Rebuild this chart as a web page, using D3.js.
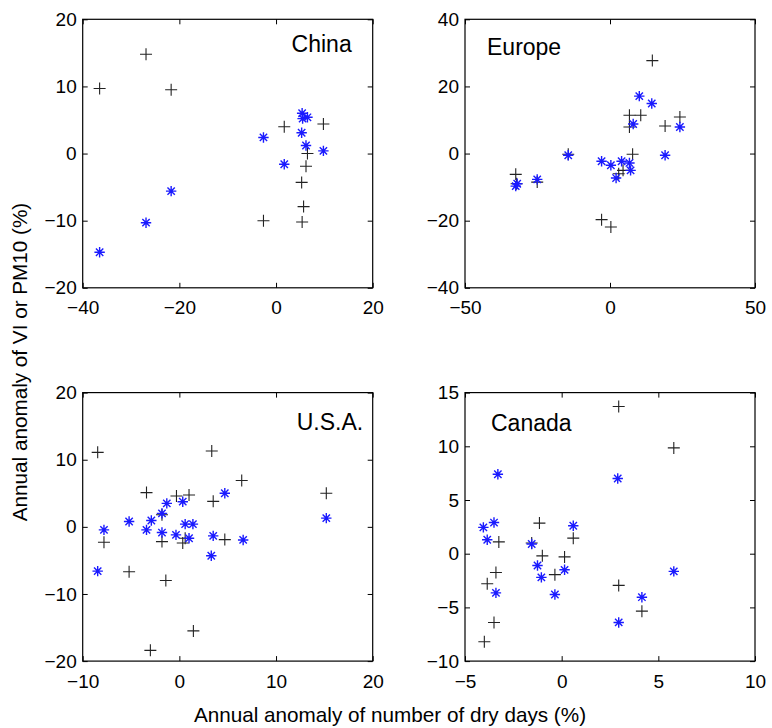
<!DOCTYPE html>
<html>
<head>
<meta charset="utf-8">
<script src="https://cdn.jsdelivr.net/npm/d3@7"></script>
<style>
  html, body { margin: 0; padding: 0; background: #fff; }
  svg { display: block; font-family: "Liberation Sans", Arial, Helvetica, sans-serif; }
</style>
</head>
<body>
<svg id="chart" width="772" height="728"></svg>
<script>
// ---------------- DATA ----------------
// Black "+" series and blue "*" series: [anomaly of dry days (%), anomaly of VI or PM10 (%)]
const chinaPlus = [[-36.5, 9.7], [-26.9, 14.8], [-21.7, 9.5], [1.7, 4.0], [9.8, 4.4], [6.5, 0.0],
  [6.2, -1.9], [5.3, -4.3], [5.7, -7.9], [-2.6, -10.0], [5.4, -10.2]];
const chinaStar = [[-36.5, -14.7], [-26.9, -10.3], [-21.7, -5.6], [-2.6, 2.4], [1.7, -1.6], [5.4, 6.0],
  [5.5, 5.2], [6.5, 5.4], [5.3, 3.1], [6.2, 1.2], [9.8, 0.4]];

const europePlus = [[-32.5, -6.2], [-32.2, -9.0], [-25.1, -8.5], [-14.4, -0.2], [-2.9, -19.7], [0.3, -21.9],
  [3.0, -6.0], [4.5, -5.0], [6.7, 11.4], [10.6, 11.4], [6.7, 7.9], [7.8, -0.2], [14.6, 27.7], [19.0, 8.2], [24.1, 10.9]];
const europeStar = [[-32.5, -9.7], [-32.0, -9.0], [-25.1, -7.7], [-14.4, -0.5], [-2.9, -2.3], [0.3, -3.5],
  [2.1, -7.3], [4.0, -2.3], [6.7, -2.8], [7.1, -5.0], [8.0, 8.8], [10.1, 17.1], [14.4, 14.9], [19.0, -0.5], [24.1, 7.9]];

const usaPlus = [[-8.45, 11.1], [-7.8, -2.3], [-5.2, -6.7], [-3.4, 5.1], [-3.0, -18.4], [-1.8, 1.8],
  [-1.8, -2.2], [-1.4, -8.0], [-0.3, 4.6], [1.0, 4.75], [0.35, -2.4], [0.6, -1.7], [1.45, -15.5],
  [3.35, 11.3], [3.5, 3.8], [4.7, -1.9], [6.45, 6.9], [15.2, 5.0]];
const usaStar = [[-8.45, -6.6], [-7.8, -0.45], [-5.2, 0.8], [-3.4, -0.45], [-2.9, 0.95], [-1.8, 2.0],
  [-1.8, -0.85], [-1.3, 3.5], [-0.35, -1.2], [0.35, 3.75], [0.6, 0.4], [1.4, 0.4], [1.0, -1.7],
  [3.3, -4.3], [3.5, -1.35], [4.7, 5.0], [6.6, -1.95], [15.2, 1.3]];

const canadaPlus = [[-4.0, -8.2], [-3.85, -2.8], [-3.5, -6.4], [-3.4, -1.75], [-3.25, 1.1], [-1.55, 1.0],
  [-1.15, 2.85], [-1.0, -0.2], [-0.35, -1.95], [0.15, -0.3], [0.6, 1.45], [2.95, 13.7], [2.95, -2.95],
  [4.15, -5.35], [5.8, 9.85]];
const canadaStar = [[-4.05, 2.45], [-3.85, 1.3], [-3.5, 2.9], [-3.3, 7.4], [-3.4, -3.65], [-1.55, 0.9],
  [-1.25, -1.1], [-1.05, -2.2], [-0.35, -3.8], [0.15, -1.5], [0.6, 2.6], [2.9, 7.0], [2.95, -6.4],
  [4.15, -4.05], [5.8, -1.65]];

const regionNames = ["China", "Europe", "U.S.A.", "Canada"];
const chinaXTicks = [-40, -20, 0, 20],  chinaYTicks = [-20, -10, 0, 10, 20];
const europeXTicks = [-50, 0, 50],      europeYTicks = [-40, -20, 0, 20, 40];
const usaXTicks = [-10, 0, 10, 20],     usaYTicks = [-20, -10, 0, 10, 20];
const canadaXTicks = [-5, 0, 5, 10],    canadaYTicks = [-10, -5, 0, 5, 10, 15];
const xAxisTitle = "Annual anomaly of number of dry days (%)";
const yAxisTitle = "Annual anomaly of VI or PM10 (%)";

// ---------------- LAYOUT ----------------
const svg = d3.select("#chart");
const panelW = 290, panelH = 268.5;
const cols = [82.7, 465], rows = [19.3, 392.6];
const fontSize = 19;
const minus = d => (d < 0 ? "\u2212" + Math.abs(d) : String(d));

const panels = [
  { name: regionNames[0], plus: chinaPlus, star: chinaStar, xt: chinaXTicks, yt: chinaYTicks, col: 0, row: 0, tx: 269, ty: 33, anchor: "end" },
  { name: regionNames[1], plus: europePlus, star: europeStar, xt: europeXTicks, yt: europeYTicks, col: 1, row: 0, tx: 22, ty: 35.5, anchor: "start" },
  { name: regionNames[2], plus: usaPlus, star: usaStar, xt: usaXTicks, yt: usaYTicks, col: 0, row: 1, tx: 280.5, ty: 37.5, anchor: "end" },
  { name: regionNames[3], plus: canadaPlus, star: canadaStar, xt: canadaXTicks, yt: canadaYTicks, col: 1, row: 1, tx: 26, ty: 38.5, anchor: "start" }
];

const plusPath = (r => `M${-r},0H${r}M0,${-r}V${r}`)(6);
const starPath = (r => {
  const d = r * Math.SQRT1_2;
  return `M${-r},0H${r}M0,${-r}V${r}M${-d},${-d}L${d},${d}M${-d},${d}L${d},${-d}`;
})(5.2);

panels.forEach(p => {
  const left = cols[p.col], top = rows[p.row];
  const x = d3.scaleLinear().domain(d3.extent(p.xt)).range([0, panelW]);
  const y = d3.scaleLinear().domain(d3.extent(p.yt)).range([panelH, 0]);
  const g = svg.append("g").attr("transform", `translate(${left},${top})`);

  // axes with inward ticks
  const styleAxis = sel => {
    sel.select(".domain").remove();
    sel.selectAll(".tick line").attr("stroke", "#000").attr("stroke-width", 1);
    sel.selectAll(".tick text").attr("font-size", fontSize).attr("fill", "#000")
      .attr("font-family", "'Liberation Sans', Arial, Helvetica, sans-serif");
  };
  g.append("g").attr("transform", `translate(0,${panelH})`)
    .call(d3.axisBottom(x).tickValues(p.xt).tickSize(-5).tickPadding(13).tickFormat(minus))
    .call(styleAxis);
  g.append("g")
    .call(d3.axisTop(x).tickValues(p.xt).tickSize(-5).tickFormat(""))
    .call(styleAxis);
  g.append("g")
    .call(d3.axisLeft(y).tickValues(p.yt).tickSize(-5).tickPadding(6).tickFormat(minus))
    .call(styleAxis);
  g.append("g").attr("transform", `translate(${panelW},0)`)
    .call(d3.axisRight(y).tickValues(p.yt).tickSize(-5).tickFormat(""))
    .call(styleAxis);

  g.append("rect").attr("x", 0).attr("y", 0).attr("width", panelW).attr("height", panelH)
    .attr("fill", "none").attr("stroke", "#000").attr("stroke-width", 1.2);

  // region label
  g.append("text")
    .attr("x", p.tx)
    .attr("y", p.ty)
    .attr("text-anchor", p.anchor)
    .attr("font-size", 23)
    .attr("fill", "#000")
    .text(p.name);

  // markers
  g.append("g").selectAll("path").data(p.plus).join("path")
    .attr("transform", d => `translate(${x(d[0])},${y(d[1])})`)
    .attr("d", plusPath)
    .attr("stroke", "#222").attr("stroke-width", 1.1).attr("fill", "none");
  g.append("g").selectAll("path").data(p.star).join("path")
    .attr("transform", d => `translate(${x(d[0])},${y(d[1])})`)
    .attr("d", starPath)
    .attr("stroke", "#1a1aff").attr("stroke-width", 1.4).attr("fill", "none");
});

// axis titles
svg.append("text")
  .attr("x", 390).attr("y", 722)
  .attr("text-anchor", "middle")
  .attr("font-size", 20.7)
  .attr("fill", "#000")
  .text(xAxisTitle);

svg.append("text")
  .attr("transform", "translate(27,362) rotate(-90)")
  .attr("text-anchor", "middle")
  .attr("font-size", 20.7)
  .attr("fill", "#000")
  .text(yAxisTitle);
</script>
</body>
</html>
